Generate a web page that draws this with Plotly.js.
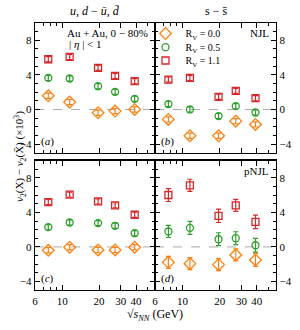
<!DOCTYPE html>
<html><head><meta charset="utf-8">
<script src="https://cdn.plot.ly/plotly-3.0.1.min.js"></script>
<style>html,body{margin:0;padding:0;background:#fff;}#plot{width:300px;height:330px;}</style>
</head><body><div id="plot"></div>
<script>
const energies = [7.7, 11.5, 19.6, 27, 39];
const seriesNames = ["R<sub>V</sub> = 0.0", "R<sub>V</sub> = 0.5", "R<sub>V</sub> = 1.1"];
// panel (a): u,d - ubar,dbar NJL
const a_rv00 = [1.58, 0.85, -0.38, -0.19, 0.0];
const a_rv05 = [3.65, 3.58, 2.69, 2.04, 1.23];
const a_rv11 = [5.81, 6.08, 4.81, 3.88, 3.27];
const a_err = [0.3, 0.3, 0.3, 0.3, 0.3];
// panel (b): s - sbar NJL
const b_rv00 = [-1.15, -3.04, -3.04, -1.35, -1.73];
const b_rv05 = [0.62, 0.0, -0.77, 0.38, -0.35];
const b_rv11 = [3.46, 3.65, 1.46, 2.15, 1.31];
const b_err = [0.3, 0.3, 0.3, 0.3, 0.3];
// panel (c): u,d - ubar,dbar pNJL
const c_rv00 = [-0.39, -0.04, -0.35, -0.35, -0.04];
const c_rv05 = [2.29, 2.83, 2.76, 2.45, 1.59];
const c_rv11 = [5.2, 6.06, 5.28, 4.82, 3.73];
const c_err = [0.3, 0.3, 0.3, 0.3, 0.3];
// panel (d): s - sbar pNJL
const d_rv00 = [-1.79, -1.94, -2.06, -0.93, -1.51];
const d_rv05 = [1.79, 2.21, 0.89, 1.01, 0.19];
const d_rv11 = [6.02, 7.15, 3.61, 4.82, 2.91];
const d_err00 = [0.7, 0.7, 0.7, 0.7, 0.75];
const d_err05 = [0.7, 0.75, 0.75, 0.75, 0.8];
const d_err11 = [0.75, 0.7, 0.78, 0.7, 0.78];
const xTickVals = [6, 10, 20, 30, 40];
const xTickText = ["6", "10", "20", "30", "40"];
const xMinorVals = [7, 8, 9, 50];
const yTickVals = [-4, 0, 4, 8];
const yMinorVals = [-5, -3, -2, -1, 1, 2, 3, 5, 6, 7, 9, 10];

const colors = ["#ff7f0e", "#2ca02c", "#d62728"];
const symbols = ["diamond-open", "circle-open", "square-open"];
const sizes = [9, 7, 7];
const legendIds = ["legend", "legend2", "legend3"];

const panels = [
  {xa: "x", ya: "y", vals: [a_rv00, a_rv05, a_rv11], errs: [a_err, a_err, a_err]},
  {xa: "x2", ya: "y2", vals: [b_rv00, b_rv05, b_rv11], errs: [b_err, b_err, b_err]},
  {xa: "x3", ya: "y3", vals: [c_rv00, c_rv05, c_rv11], errs: [c_err, c_err, c_err]},
  {xa: "x4", ya: "y4", vals: [d_rv00, d_rv05, d_rv11], errs: [d_err00, d_err05, d_err11]}
];
const traces = [];
panels.forEach((p, pi) => {
  for (let k = 0; k < 3; k++) {
    traces.push({
      type: "scatter", mode: "markers",
      x: energies, y: p.vals[k], xaxis: p.xa, yaxis: p.ya,
      name: seriesNames[k], showlegend: pi === 1, legend: legendIds[k],
      marker: {symbol: symbols[k], size: sizes[k], color: colors[k], line: {width: 1.3, color: colors[k]}},
      error_y: {type: "data", array: p.errs[k], visible: true, color: colors[k], thickness: 1.2, width: 2.5}
    });
  }
});

const font = {family: "Liberation Serif, Times New Roman, serif", size: 11, color: "#000"};
const xl = [0.1167, 0.5167], xr = [0.5167, 0.92];
const yt = [0.5373, 0.9303], yb = [0.1212, 0.513];
function xax(dom, anchor, labels) {
  return {domain: dom, anchor: anchor, type: "log", range: [Math.log10(6), 1.757],
    showline: true, linecolor: "#000", linewidth: 1.3, mirror: "allticks",
    ticks: "inside", ticklen: 5, tickwidth: 1, tickcolor: "#000",
    tickmode: "array", tickvals: xTickVals, ticktext: xTickText, showticklabels: labels,
    minor: {tickmode: "array", tickvals: xMinorVals, ticks: "inside", ticklen: 3, tickcolor: "#000"},
    showgrid: false, zeroline: false, tickfont: font};
}
function yax(dom, anchor, side) {
  return {domain: dom, anchor: anchor, side: side, range: [-5, 10],
    showline: true, linecolor: "#000", linewidth: 1.3, mirror: "allticks",
    ticks: "inside", ticklen: 5, tickwidth: 1, tickcolor: "#000",
    tickmode: "array", tickvals: yTickVals, ticktext: ["−4", "0", "4", "8"],
    minor: {tickmode: "array", tickvals: yMinorVals, ticks: "inside", ticklen: 3, tickcolor: "#000"},
    showgrid: false, zeroline: false, tickfont: font};
}
const zeroLine = (xa, ya) => ({type: "line", xref: xa + " domain", yref: ya, x0: 0, x1: 1, y0: 0, y1: 0,
  line: {color: "#aaaaaa", width: 1, dash: "dash"}, layer: "below"});

const ann = (t, x, y, xa, ya, opts) => Object.assign({text: t, x: x, y: y, xref: xa, yref: ya, showarrow: false, font: font}, opts || {});
const leg = (y) => ({x: 0.485, y: y, xref: "paper", yref: "paper", xanchor: "left", yanchor: "top", bgcolor: "rgba(0,0,0,0)",
  font: {family: font.family, size: 10, color: "#000"}, tracegroupgap: 0});

const layout = {
  width: 300, height: 330, margin: {l: 0, r: 0, t: 0, b: 0},
  paper_bgcolor: "#fff", plot_bgcolor: "rgba(0,0,0,0)", font: font,
  xaxis: xax(xl, "y", false), yaxis: yax(yt, "x", "left"),
  xaxis2: xax(xr, "y2", false), yaxis2: yax(yt, "x2", "right"),
  xaxis3: xax(xl, "y3", true), yaxis3: yax(yb, "x3", "left"),
  xaxis4: xax(xr, "y4", true), yaxis4: yax(yb, "x4", "right"),
  shapes: [zeroLine("x", "y"), zeroLine("x2", "y2"), zeroLine("x3", "y3"), zeroLine("x4", "y4")],
  showlegend: true,
  legend: leg(0.9424), legend2: leg(0.9009), legend3: leg(0.8606),
  annotations: [
    ann("<i>u</i>, <i>d</i> − <i>ū</i>, <i>d̄</i>", 0.5, 1.0, "x domain", "y domain", {yanchor: "bottom", yshift: 3, font: Object.assign({}, font, {size: 12})}),
    ann("s − s̄", 0.5, 1.0, "x2 domain", "y2 domain", {yanchor: "bottom", yshift: 3, font: Object.assign({}, font, {size: 12})}),
    ann("Au + Au, 0 − 80%", 0.96, 0.985, "x domain", "y domain", {xanchor: "right", yanchor: "top"}),
    ann("| <i>η</i> | &lt; 1", 0.42, 0.9, "x domain", "y domain", {xanchor: "center", yanchor: "top"}),
    ann("NJL", 0.96, 0.985, "x2 domain", "y2 domain", {xanchor: "right", yanchor: "top"}),
    ann("pNJL", 0.96, 0.985, "x4 domain", "y4 domain", {xanchor: "right", yanchor: "top"}),
    ann("(<i>a</i>)", 0.03, 0.02, "x domain", "y domain", {xanchor: "left", yanchor: "bottom"}),
    ann("(<i>b</i>)", 0.03, 0.02, "x2 domain", "y2 domain", {xanchor: "left", yanchor: "bottom"}),
    ann("(<i>c</i>)", 0.03, 0.02, "x3 domain", "y3 domain", {xanchor: "left", yanchor: "bottom"}),
    ann("(<i>d</i>)", 0.03, 0.02, "x4 domain", "y4 domain", {xanchor: "left", yanchor: "bottom"}),
    ann("<i>v</i><sub>2</sub>(X) − <i>v</i><sub>2</sub>(X̄) (×10<sup>3</sup>)", 0.033, 0.527, "paper", "paper", {textangle: -90, font: Object.assign({}, font, {size: 11})}),
    ann("√<i>s</i><sub><i>NN</i></sub> (GeV)", 0.518, 0.076, "paper", "paper", {yanchor: "top", font: Object.assign({}, font, {size: 12})})
  ]
};
Plotly.newPlot("plot", traces, layout, {staticPlot: true, displayModeBar: false});
</script></body></html>
